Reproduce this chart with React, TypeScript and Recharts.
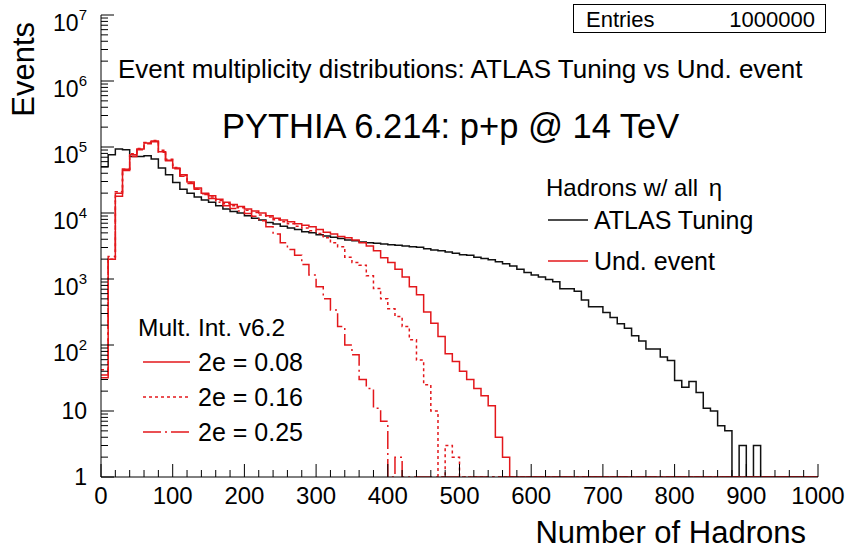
import { LineChart, Line, XAxis, YAxis } from "recharts";

// histogram: 100 bins of 10 hadrons, 0..1000, counts per bin (0 = empty bin)
const BIN_WIDTH = 10;

const atlasTuning = [
  50000, 76000, 93000, 91000, 72000, 72000, 74000, 66000, 48000, 38000,
  29000, 23000, 20000, 17400, 15800, 14500, 12900, 11500, 10500, 10000,
  9100, 8300, 7800, 7200, 6800, 6300, 5900, 5600, 5200, 5000,
  4700, 4500, 4300, 4100, 3900, 3800, 3630, 3550, 3470, 3390,
  3310, 3240, 3160, 3090, 3020, 2880, 2750, 2690, 2570, 2450,
  2340, 2290, 2140, 2040, 1950, 1820, 1700, 1580, 1410, 1260,
  1150, 1070, 980, 910, 710, 710, 650, 480, 380, 380,
  310, 260, 210, 180, 138, 115, 87, 87, 66, 58,
  29, 23, 28, 19, 11, 10, 6, 5, 0, 3,
  0, 3, 0, 0, 0, 0, 0, 0, 0, 0,
];

const undEvent008 = [
  35, 2000, 20000, 46000, 76000, 93000, 115000, 123000, 85000, 63000,
  48000, 38000, 29500, 24000, 20000, 18200, 16200, 14500, 13500, 12600,
  11500, 10700, 10000, 9100, 8300, 7800, 7400, 6900, 6500, 6200,
  5600, 5100, 4800, 4400, 4200, 3900, 3550, 3160, 2690, 2090,
  1780, 1410, 1070, 760, 575, 316, 214, 135, 74, 56,
  40, 30, 22, 17, 12, 4, 2, 0, 0, 0,
  0, 0, 0, 0, 0, 0, 0, 0, 0, 0,
  0, 0, 0, 0, 0, 0, 0, 0, 0, 0,
  0, 0, 0, 0, 0, 0, 0, 0, 0, 0,
  0, 0, 0, 0, 0, 0, 0, 0, 0, 0,
];

const undEvent016 = [
  42, 2000, 21000, 46000, 79000, 95000, 117000, 126000, 89000, 65000,
  49000, 37000, 29000, 23400, 19500, 17400, 15500, 13800, 12900, 12000,
  11000, 10200, 9300, 8700, 7900, 7400, 6900, 6300, 5900, 5400,
  4900, 4200, 3550, 3090, 2140, 1780, 1620, 1120, 720, 500,
  355, 270, 190, 120, 59, 25, 10, 0, 3, 2,
  0, 0, 0, 0, 0, 0, 0, 0, 0, 0,
  0, 0, 0, 0, 0, 0, 0, 0, 0, 0,
  0, 0, 0, 0, 0, 0, 0, 0, 0, 0,
  0, 0, 0, 0, 0, 0, 0, 0, 0, 0,
  0, 0, 0, 0, 0, 0, 0, 0, 0, 0,
];

const undEvent025 = [
  32, 2200, 18000, 44000, 72000, 91000, 112000, 120000, 83000, 62000,
  47000, 36000, 28000, 23000, 19000, 16600, 14500, 12900, 11700, 10700,
  9800, 8900, 7600, 6200, 4800, 3550, 2800, 2300, 1660, 1150,
  760, 500, 340, 190, 100, 71, 30, 22, 11, 7,
  0, 2, 0, 0, 0, 0, 0, 0, 0, 0,
  0, 0, 0, 0, 0, 0, 0, 0, 0, 0,
  0, 0, 0, 0, 0, 0, 0, 0, 0, 0,
  0, 0, 0, 0, 0, 0, 0, 0, 0, 0,
  0, 0, 0, 0, 0, 0, 0, 0, 0, 0,
  0, 0, 0, 0, 0, 0, 0, 0, 0, 0,
];

const xTicks = [
  0, 20, 40, 60, 80, 100, 120, 140, 160, 180, 200, 220, 240, 260, 280, 300,
  320, 340, 360, 380, 400, 420, 440, 460, 480, 500, 520, 540, 560, 580, 600,
  620, 640, 660, 680, 700, 720, 740, 760, 780, 800, 820, 840, 860, 880, 900,
  920, 940, 960, 980, 1000,
];
const yDecades = [1, 10, 100, 1000, 10000, 100000, 1000000, 10000000];
const yTicks = yDecades.flatMap((d, i) =>
  i === yDecades.length - 1 ? [d] : [1, 2, 3, 4, 5, 6, 7, 8, 9].map((m) => d * m)
);

const Y_MIN = 1;
const RED = "#e3171b";
const FONT = "'Liberation Sans', Arial, Helvetica, sans-serif";

// empty bins sit on the frame bottom, like ROOT draws them on a log axis
const floorLog = (c: number) => (c > 0 ? c : Y_MIN);

const chartData = Array.from({ length: atlasTuning.length + 1 }, (_, i) => {
  const k = Math.min(i, atlasTuning.length - 1);
  return {
    x: i * BIN_WIDTH,
    atlas: floorLog(atlasTuning[k]),
    e008: floorLog(undEvent008[k]),
    e016: floorLog(undEvent016[k]),
    e025: floorLog(undEvent025[k]),
  };
});

function YTick(props: any) {
  const { x, y, payload } = props;
  const v = payload.value as number;
  const lg = Math.log10(v);
  const exp = Math.round(lg);
  const major = Math.abs(lg - exp) < 1e-9;
  return (
    <g>
      <line x1={x} x2={x + (major ? 13 : 7)} y1={y} y2={y} stroke="#000" />
      {major &&
        (exp >= 2 ? (
          <text x={x - 14} y={y + 16} textAnchor="end" fontSize={23} fontFamily={FONT} fill="#000">
            10
            <tspan dy={-11} fontSize={15}>
              {exp}
            </tspan>
          </text>
        ) : (
          <text x={x - 14} y={y + 8} textAnchor="end" fontSize={23} fontFamily={FONT} fill="#000">
            {v}
          </text>
        ))}
    </g>
  );
}

function XTick(props: any) {
  const { x, y, payload } = props;
  const major = payload.value % 100 === 0;
  return (
    <g>
      <line x1={x} x2={x} y1={y} y2={y - (major ? 13 : 7)} stroke="#000" />
      {major && (
        <text x={x} y={y + 27} textAnchor="middle" fontSize={24} fontFamily={FONT} fill="#000">
          {payload.value}
        </text>
      )}
    </g>
  );
}

function Overlay() {
  const t = { fontFamily: FONT, fill: "#000" };
  return (
    <svg
      width={848}
      height={552}
      style={{ position: "absolute", left: 0, top: 0, pointerEvents: "none" }}
    >
      <rect x={573.5} y={4.5} width={252} height={28} fill="#fff" stroke="#000" />
      <text x={586} y={27} fontSize={22} {...t}>Entries</text>
      <text x={815} y={27} fontSize={22} textAnchor="end" {...t}>1000000</text>

      <text x={118} y={78} fontSize={26} {...t}>
        Event multiplicity distributions: ATLAS Tuning vs Und. event
      </text>
      <text x={222} y={138} fontSize={34.5} {...t}>PYTHIA 6.214: p+p @ 14 TeV</text>

      <text x={546} y={196} fontSize={24} {...t}>
        Hadrons w/ all <tspan dx={4}>η</tspan>
      </text>
      <line x1={548} x2={588} y1={220} y2={220} stroke="#111" strokeWidth={1.5} />
      <text x={594} y={229} fontSize={25} {...t}>ATLAS Tuning</text>
      <line x1={548} x2={588} y1={261} y2={261} stroke={RED} strokeWidth={1.5} />
      <text x={594} y={270} fontSize={25} {...t}>Und. event</text>

      <text x={138} y={336} fontSize={24.5} {...t}>Mult. Int. v6.2</text>
      <line x1={143} x2={190} y1={362} y2={362} stroke={RED} strokeWidth={1.5} />
      <text x={198} y={371} fontSize={25} {...t}>2e = 0.08</text>
      <line x1={143} x2={190} y1={397} y2={397} stroke={RED} strokeWidth={1.5} strokeDasharray="3 3" />
      <text x={198} y={406} fontSize={25} {...t}>2e = 0.16</text>
      <line x1={143} x2={190} y1={432} y2={432} stroke={RED} strokeWidth={1.5} strokeDasharray="18 4 2 4" />
      <text x={198} y={441} fontSize={25} {...t}>2e = 0.25</text>

      <text x={34} y={22} fontSize={31} textAnchor="end" transform="rotate(-90 34 22)" {...t}>
        Events
      </text>
      <text x={806} y={543} fontSize={31} textAnchor="end" {...t}>Number of Hadrons</text>
    </svg>
  );
}

export default function App() {
  return (
    <div style={{ position: "fixed", left: 0, top: 0, width: 848, height: 552, background: "#fff" }}>
      <LineChart
        width={848}
        height={552}
        data={chartData}
        margin={{ top: 15, right: 30, bottom: 45, left: 0 }}
      >
        <XAxis
          dataKey="x"
          type="number"
          domain={[0, 1000]}
          ticks={xTicks}
          interval={0}
          tickSize={0}
          tickMargin={0}
          tick={<XTick />}
          height={30}
          axisLine={{ stroke: "#000" }}
        />
        <XAxis
          xAxisId="top"
          orientation="top"
          type="number"
          domain={[0, 1000]}
          height={0}
          tick={false}
          tickLine={false}
          axisLine={{ stroke: "#000" }}
        />
        <YAxis
          type="number"
          scale="log"
          domain={[Y_MIN, 10000000]}
          allowDataOverflow
          ticks={yTicks}
          interval={0}
          tickSize={0}
          tickMargin={0}
          tick={<YTick />}
          width={101}
          axisLine={{ stroke: "#000" }}
        />
        <YAxis
          yAxisId="right"
          orientation="right"
          type="number"
          scale="log"
          domain={[Y_MIN, 10000000]}
          width={0}
          tick={false}
          tickLine={false}
          axisLine={{ stroke: "#000" }}
        />
        <Line dataKey="atlas" type="stepAfter" stroke="#111" strokeWidth={1.5} dot={false} isAnimationActive={false} />
        <Line dataKey="e025" type="stepAfter" stroke={RED} strokeWidth={1.5} strokeDasharray="18 4 2 4" dot={false} isAnimationActive={false} />
        <Line dataKey="e016" type="stepAfter" stroke={RED} strokeWidth={1.5} strokeDasharray="3 3" dot={false} isAnimationActive={false} />
        <Line dataKey="e008" type="stepAfter" stroke={RED} strokeWidth={1.5} dot={false} isAnimationActive={false} />
      </LineChart>
      <Overlay />
    </div>
  );
}
